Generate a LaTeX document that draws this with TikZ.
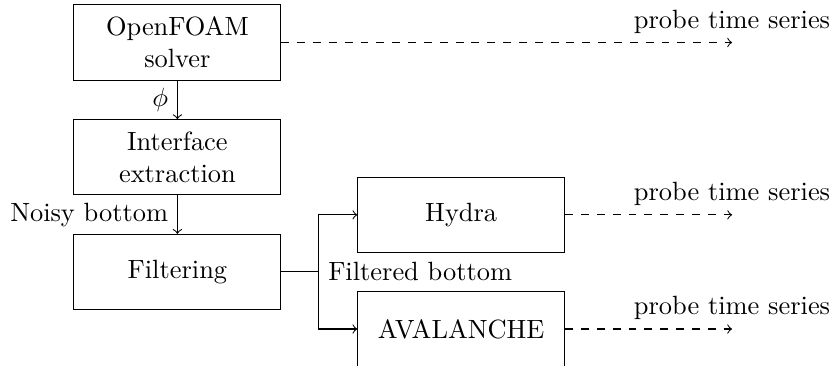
\documentclass[tikz,border=0pt]{standalone}
\usepackage{amsmath}
\usepackage{amssymb}
\usepackage{tikz}
\usetikzlibrary{positioning}

\begin{document}
\begin{tikzpicture}[
        block/.style={draw, text width=2.52cm, align=center, minimum height=1cm},
        probe/.style={->, dashed},
        node distance=14.6pt and 1.01cm,
    ]
        \useasboundingbox (-67.2pt, -122.5pt) rectangle (249.1pt, 16.1pt);

        \node[block] (solver) {OpenFOAM\\solver};
        \node[block, below=of solver] (extract) {Interface\\extraction};
        \node[block, below=of extract] (filter) {Filtering};
        \node[block, right=of filter, yshift=0.76cm] (hydra) {Hydra};
        \node[block, right=of filter, yshift=-0.76cm] (avalanche) {AVALANCHE};

        \coordinate[right=6cm of solver.east] (solverout);
        \coordinate (hydraout) at (solverout |- hydra.east);
        \coordinate (avalancheout) at (solverout |- avalanche.east);
        \coordinate[right=0.5cm of filter.east] (split);

        \draw[->] (solver) -- node[left] {\(\phi\)} (extract);
        \draw[->] (extract) -- node[left] {Noisy bottom} (filter);

        \draw (filter.east) -- (split) node[right] {Filtered bottom};
        \draw[->] (split) |- (hydra.west);
        \draw[->] (split) |- (avalanche.west);

        \draw[probe] (solver.east) -- (solverout) node[above] {probe time series};
        \draw[probe] (hydra.east) -- (hydraout) node[above] {probe time series};
        \draw[probe] (avalanche.east) -- (avalancheout) node[above] {probe time series};
    \end{tikzpicture}
\end{document}
